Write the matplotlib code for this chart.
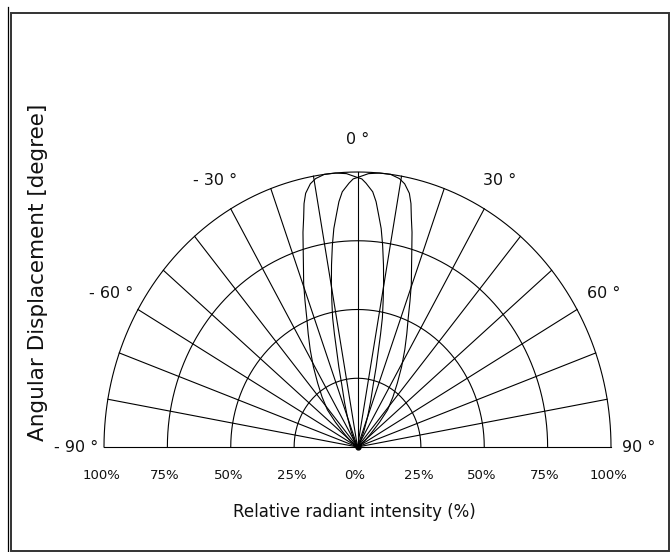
import numpy as np
import matplotlib
matplotlib.use("Agg")
import matplotlib.pyplot as plt
from matplotlib.lines import Line2D
from matplotlib.patches import Rectangle

# Radiation pattern (angle in degree, relative intensity 0..1)
wide_angle = [0, 2.5, 5, 7.5, 9.6, 11, 12.5, 13.4, 14.3, 15.4, 16.6, 18, 19.7, 21.3, 23.1,
              25.3, 27.8, 30.8, 34.1, 37.5, 41.3, 44, 47, 51, 55, 70, 90]
wide_rel = [0.98, 0.995, 1.0, 1.0, 0.99, 0.975, 0.945, 0.91, 0.86, 0.81, 0.75, 0.69, 0.63,
            0.57, 0.51, 0.455, 0.40, 0.34, 0.28, 0.23, 0.18, 0.125, 0.075, 0.04, 0.02, 0.0, 0.0]

narrow_angle = [0, 1, 2, 3.7, 4.7, 5.6, 6.7, 7.7, 8.8, 9.8, 10.8, 11.8, 12.5, 13.2, 14.2,
                15.2, 17.5, 20, 24, 30, 90]
narrow_rel = [0.98, 0.975, 0.96, 0.93, 0.895, 0.85, 0.80, 0.74, 0.67, 0.605, 0.54, 0.48,
              0.42, 0.36, 0.30, 0.24, 0.17, 0.116, 0.06, 0.02, 0.0]

grid_angles = list(range(-80, 90, 10))
grid_radii = [0.25, 0.5, 0.75, 1.0]
pct_pos = [-1.0, -0.75, -0.5, -0.25, 0.0, 0.25, 0.5, 0.75, 1.0]
pct_labels = ["100%", "75%", "50%", "25%", "0%", "25%", "50%", "75%", "100%"]
deg_angles = [-90, -60, -30, 0, 30, 60, 90]
deg_labels = ["- 90 °", "- 60 °", "- 30 °", "0 °", "30 °", "60 °", "90 °"]


def to_xy(angle, rel):
    t = np.radians(np.asarray(angle, dtype=float))
    r = np.asarray(rel, dtype=float)
    return r * np.sin(t), r * np.cos(t)


W, H = 670, 552
fig = plt.figure(figsize=(W / 100, H / 100), dpi=100)
fig.patch.set_facecolor("white")

# axes placed so that data (-1..1, 0..1) fills the half ellipse
x0, x1, ytop, ybase = 104, 611, 172, 447
ax = fig.add_axes([x0 / W, 1 - ybase / H, (x1 - x0) / W, (ybase - ytop) / H])
ax.set_xlim(-1, 1)
ax.set_ylim(0, 1)
ax.axis("off")

lw = 0.8
# spokes
for a in grid_angles:
    gx, gy = to_xy([a, a], [0, 1])
    ax.plot(gx, gy, color="black", lw=lw, clip_on=False)
ax.plot([-1, 1], [0, 0], color="black", lw=lw, clip_on=False)

# rings
th = np.linspace(-90, 90, 361)
for r in grid_radii:
    cx, cy = to_xy(th, np.full_like(th, r))
    ax.plot(cx, cy, color="black", lw=lw, clip_on=False)

# two pattern curves (each: wide on one side, narrow on the other)
ang_a = [-a for a in wide_angle[::-1]] + narrow_angle[1:]
rel_a = wide_rel[::-1] + narrow_rel[1:]
ang_b = [-a for a in narrow_angle[::-1]] + wide_angle[1:]
rel_b = narrow_rel[::-1] + wide_rel[1:]
for ang, rel in [(ang_a, rel_a), (ang_b, rel_b)]:
    px, py = to_xy(ang, rel)
    ax.plot(px, py, color="black", lw=lw, clip_on=False, solid_joinstyle="round")

ax.plot([0], [0], "o", color="black", ms=3.5, clip_on=False)

# labels
for p, lab in zip(pct_pos, pct_labels):
    ax.text(p - 0.01, -0.102, lab, ha="center", va="center", fontsize=9.5, color="#111")

for a, lab in zip(deg_angles, deg_labels):
    lx, ly = to_xy(a, 1.12)
    if abs(a) == 90:
        ly = 0.0
        lx = np.sign(a) * 1.11
    ax.text(lx, ly, lab, ha="center", va="center", fontsize=11.5, color="#111")

ax.text(-0.014, -0.236, "Relative radiant intensity (%)", ha="center", va="center",
        fontsize=12, color="#111")
ax.text(-1.26, 0.636, "Angular Displacement [degree]", ha="center", va="center",
        rotation=90, fontsize=15.5, color="#111")

# frame
fig.add_artist(Line2D([7.5 / W, 7.5 / W], [0, 1 - 7 / H], transform=fig.transFigure,
                      color="black", lw=0.9))
fig.add_artist(Rectangle((10.5 / W, 1 - 551 / H), (669 - 10.5) / W, (551 - 13) / H,
                         transform=fig.transFigure, fill=False, edgecolor="#333", lw=1.4))

fig.savefig("out.png", dpi=100)
